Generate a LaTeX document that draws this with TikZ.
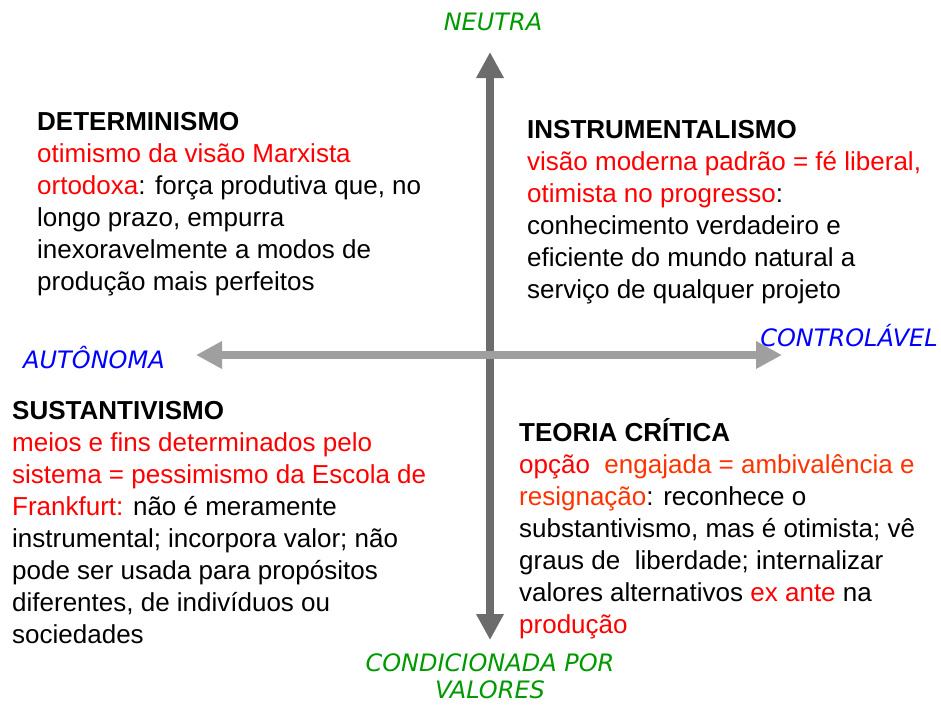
\documentclass[tikz,border=0pt]{standalone}
\usepackage{fontspec}
\setmainfont{Liberation Sans}
\newfontfamily\axisfont{DejaVu Sans}
\usetikzlibrary{arrows.meta}
\definecolor{verde}{RGB}{0,153,0}
\definecolor{azul}{RGB}{0,0,255}
\definecolor{vermelho}{RGB}{255,0,0}
\definecolor{laranja}{RGB}{255,51,0}
\newcommand{\vm}[1]{\textcolor{vermelho}{#1}}
\newcommand{\lj}[1]{\textcolor{laranja}{#1}}
\tikzset{
  bloco/.style={anchor=north west, align=left, inner sep=0pt,
    font=\fontsize{26}{32}\selectfont},
  eixo/.style={font=\axisfont\itshape\fontsize{24}{28}\selectfont, inner sep=0pt},
  seta/.style={line width=8pt, -{Triangle[width=26pt,length=26pt]}}
}
\begin{document}
\begin{tikzpicture}[x=1pt, y=-1pt]
    \useasboundingbox (0,0) rectangle (941,704);
    % eixos
    \coordinate (C) at (490,355);
    \coordinate (N) at (490,52);
    \coordinate (S) at (490,640);
    \coordinate (W) at (196,355);
    \coordinate (E) at (782,355);
    \draw[seta, gray!85!black] (C) -- (N);
    \draw[seta, gray!85!black] (C) -- (S);
    \draw[seta, gray!75] (C) -- (W);
    \draw[seta, gray!75] (C) -- (E);

    \node[eixo, text=verde] (neutra) at (493,22) {NEUTRA};
    \node[eixo, text=azul] (autonoma) at (94,358) {AUTÔNOMA};
    \node[eixo, text=azul] (controlavel) at (849,336) {CONTROLÁVEL};
    \node[eixo, text=verde, align=center, font=\axisfont\itshape\fontsize{24}{27}\selectfont]
        (condicionada) at (490,676) {CONDICIONADA POR\\VALORES};

    % quadrantes
    \node[bloco] (det) at (37,112) {\textbf{DETERMINISMO}\\
        \vm{otimismo da visão Marxista}\\
        \vm{ortodoxa}: força produtiva que, no\\
        longo prazo, empurra\\
        inexoravelmente a modos de\\
        produção mais perfeitos};
    \node[bloco] (inst) at (527,120) {\textbf{INSTRUMENTALISMO}\\
        \vm{visão moderna padrão = fé liberal,}\\
        \vm{otimista no progresso}:\\
        conhecimento verdadeiro e\\
        eficiente do mundo natural a\\
        serviço de qualquer projeto};
    \node[bloco] (sub) at (12,401) {\textbf{SUSTANTIVISMO}\\
        \vm{meios e fins determinados pelo}\\
        \vm{sistema = pessimismo da Escola de}\\
        \vm{Frankfurt:} não é meramente\\
        instrumental; incorpora valor; não\\
        pode ser usada para propósitos\\
        diferentes, de indivíduos ou\\
        sociedades};
    \node[bloco] (teo) at (519,418) {\textbf{TEORIA CRÍTICA}\\
        \vm{opção}\ \ \lj{engajada = ambivalência e}\\
        \lj{resignação}: reconhece o\\
        substantivismo, mas é otimista; vê\\
        graus de\ \ liberdade; internalizar\\
        valores alternativos \vm{ex ante} na\\
        \vm{produção}};
\end{tikzpicture}
\end{document}
